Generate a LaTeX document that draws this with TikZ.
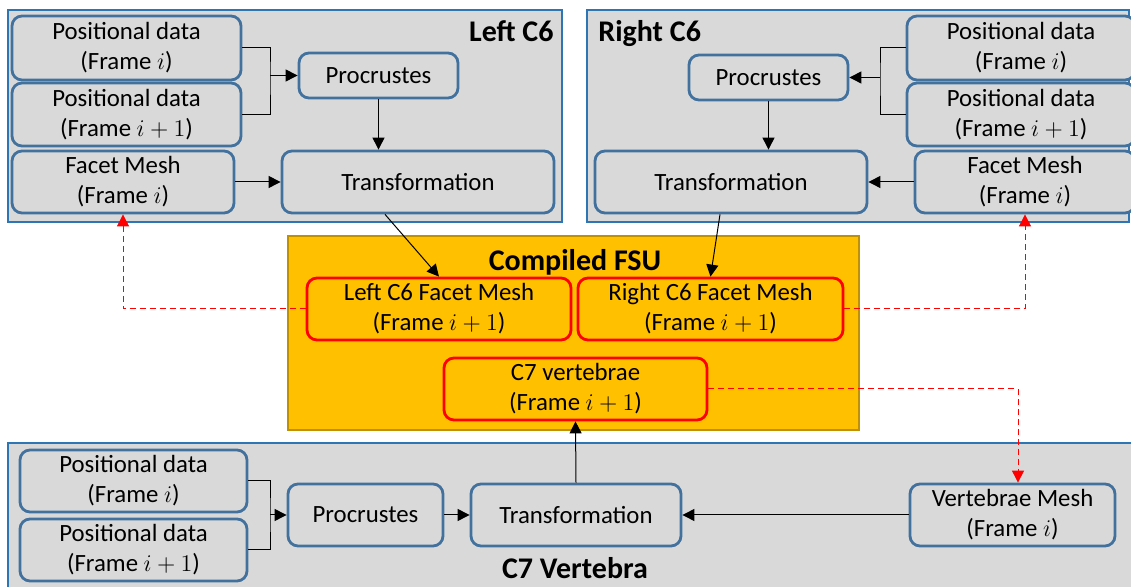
\documentclass[tikz,border=0pt]{standalone}
\usepackage{fontspec}
\setmainfont{Carlito}
\usetikzlibrary{arrows.meta,calc}
\definecolor{boxgray}{HTML}{D9D9D9}
\definecolor{boxblue}{HTML}{41719C}
\definecolor{grpblue}{HTML}{2E75B6}
\definecolor{fsufill}{HTML}{FFC000}
\definecolor{fsuline}{HTML}{BF9000}
\definecolor{myred}{HTML}{FF0000}
\tikzset{
  grp/.style={draw=grpblue, fill=boxgray, line width=1pt},
  bx/.style={draw=boxblue, fill=boxgray, line width=1.4pt, rounded corners=5pt,
    align=center, inner sep=1pt, font=\fontsize{12.4}{15}\selectfont},
  rbx/.style={draw=myred, fill=fsufill, line width=1.4pt, rounded corners=5pt,
    align=center, inner sep=1pt, font=\fontsize{12.4}{15}\selectfont},
  ttl/.style={font=\fontsize{15}{18}\selectfont\bfseries, inner sep=0pt},
  ln/.style={draw=black, line width=0.5pt},
  arr/.style={ln, -{Triangle[length=6pt,width=6pt]}},
  rarr/.style={draw=myred, line width=0.5pt, dash pattern=on 3pt off 2pt,
    -{Triangle[length=6pt,width=6pt]}},
}
\begin{document}
\begin{tikzpicture}[x=0.5pt,y=-0.5pt]
\useasboundingbox (0,0) rectangle (1131,587);
\fill[white] (0,0) rectangle (1131,587);
% groups
\path[grp] (8,10) rectangle (562,222);
\path[grp] (587,10) rectangle (1129,222);
\path[grp] (8,443) rectangle (1140,600);
\path[draw=fsuline, fill=fsufill, line width=1pt] (288,236) rectangle (859,430);
% titles
\node[ttl, anchor=north east] (tl) at (554,20) {Left C6};
\node[ttl, anchor=north west] (tr) at (598,20) {Right C6};
\node[ttl] (tf) at (575,262) {Compiled FSU};
\node[ttl] (tb) at (575,568) {C7 Vertebra};
% left C6
\node[bx, minimum width=114.5pt, minimum height=32pt] (lpd1) at (126.5,48) {Positional data\\(Frame $i$)};
\node[bx, minimum width=114.5pt, minimum height=31.5pt] (lpd2) at (126.5,114.5) {Positional data\\(Frame $i+1$)};
\node[bx, minimum width=111pt, minimum height=31pt] (lfm) at (123,182) {Facet Mesh\\(Frame $i$)};
\node[bx, minimum width=79.5pt, minimum height=22.5pt] (lpro) at (378.5,75.5) {Procrustes};
\node[bx, minimum width=136pt, minimum height=31pt] (ltr) at (418,182) {Transformation};
% right C6
\node[bx, minimum width=114pt, minimum height=32pt] (rpd1) at (1021,48) {Positional data\\(Frame $i$)};
\node[bx, minimum width=114pt, minimum height=31.5pt] (rpd2) at (1021,114.5) {Positional data\\(Frame $i+1$)};
\node[bx, minimum width=110pt, minimum height=31pt] (rfm) at (1025,182) {Facet Mesh\\(Frame $i$)};
\node[bx, minimum width=79.5pt, minimum height=22.5pt] (rpro) at (768.5,77.5) {Procrustes};
\node[bx, minimum width=136pt, minimum height=31pt] (rtr) at (731,182) {Transformation};
% FSU
\node[rbx, minimum width=132pt, minimum height=31pt] (lfsu) at (439,309) {Left C6 Facet Mesh\\(Frame $i+1$)};
\node[rbx, minimum width=132.5pt, minimum height=31pt] (rfsu) at (710.5,309) {Right C6 Facet Mesh\\(Frame $i+1$)};
\node[rbx, minimum width=131.5pt, minimum height=31pt] (c7v) at (575.5,389) {C7 vertebrae\\(Frame $i+1$)};
% bottom
\node[bx, minimum width=113.5pt, minimum height=31pt] (bpd1) at (133.5,481) {Positional data\\(Frame $i$)};
\node[bx, minimum width=113.5pt, minimum height=31pt] (bpd2) at (133.5,550) {Positional data\\(Frame $i+1$)};
\node[bx, minimum width=77.5pt, minimum height=31pt] (bpro) at (365.5,515) {Procrustes};
\node[bx, minimum width=105pt, minimum height=31pt] (btr) at (576,515) {Transformation};
\node[bx, minimum width=102.5pt, minimum height=31pt] (bvm) at (1012.5,515) {Vertebrae Mesh\\(Frame $i$)};
% junctions
\coordinate (lj) at (270,75.5);
\coordinate (rj) at (880,77.5);
\coordinate (bj) at (270,515);
% left connectors
\draw[ln] (lpd1.east) -| (lj) |- (lpd2.east);
\draw[arr] (lj) -- (lpro.west);
\draw[arr] (lpro.south) -- (lpro.south |- ltr.north);
\draw[arr] (lfm.east) -- (ltr.west);
\draw[arr] ([xshift=-16.5pt]ltr.south) -- (lfsu.north);
% right connectors
\draw[ln] (rpd1.west) -| (rj) |- (rpd2.west);
\draw[arr] (rj) -- (rpro.east);
\draw[arr] (rpro.south) -- (rpro.south |- rtr.north);
\draw[arr] (rfm.west) -- (rtr.east);
\draw[arr] ([xshift=-5.5pt]rtr.south) -- (rfsu.north);
% bottom connectors
\draw[ln] (bpd1.east) -| (bj) |- (bpd2.east);
\draw[arr] (bj) -- (bpro.west);
\draw[arr] (bpro.east) -- (btr.west);
\draw[arr] (bvm.west) -- (btr.east);
\draw[arr] (btr.north) -- (c7v.south);
% red dashed
\draw[rarr] (lfsu.west) -| (lfm.south);
\draw[rarr] (rfsu.east) -| (rfm.south);
\draw[rarr] (c7v.east) -| ([xshift=2.75pt]bvm.north);
\end{tikzpicture}
\end{document}
